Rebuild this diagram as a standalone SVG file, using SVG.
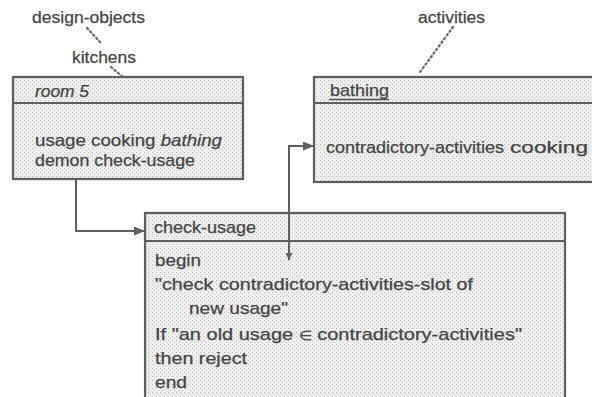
<svg xmlns="http://www.w3.org/2000/svg" width="592" height="397" viewBox="0 0 592 397">
<style>
  text { font-family: "Liberation Sans", Arial, sans-serif; fill: #444; stroke: #444; stroke-width: 0.25; }
  .lbl { font-size: 16px; }
  .t { font-size: 17px; }
  .box { fill: url(#stipple); stroke: #5e5e5e; stroke-width: 2.2; }
  .div { stroke: #5e5e5e; stroke-width: 2.2; fill: none; }
  .ul { stroke: #555; stroke-width: 1.6; fill: none; }
  .con { stroke: #5e5e5e; stroke-width: 2; fill: none; }
  .dot { stroke: #666; stroke-width: 2.2; stroke-dasharray: 1.5 3; stroke-linecap: round; fill: none; }
</style>
<defs>
  <pattern id="stipple" width="4" height="4" patternUnits="userSpaceOnUse">
    <rect width="4" height="4" fill="#efefef"/>
    <rect x="0" y="0" width="1" height="1" fill="#b4b4b4"/>
    <rect x="2" y="2" width="1" height="1" fill="#c4c4c4"/>
  </pattern>
  <marker id="arr" markerUnits="userSpaceOnUse" markerWidth="11" markerHeight="9" refX="11" refY="4.5" orient="auto-start-reverse">
    <path d="M0,0 L11,4.5 L0,9 z" fill="#5e5e5e"/>
  </marker>
  <marker id="arrs" markerUnits="userSpaceOnUse" markerWidth="7" markerHeight="7" refX="7" refY="3.5" orient="auto-start-reverse">
    <path d="M0,0 L7,3.5 L0,7 z" fill="#5e5e5e"/>
  </marker>
</defs>

<g id="label-design-objects">
  <text class="lbl" x="32" y="23" textLength="113" lengthAdjust="spacingAndGlyphs">design-objects</text>
</g>
<g id="label-kitchens">
  <text class="lbl" x="72" y="63" textLength="64" lengthAdjust="spacingAndGlyphs">kitchens</text>
</g>
<g id="label-activities">
  <text class="lbl" x="418" y="23" textLength="67" lengthAdjust="spacingAndGlyphs">activities</text>
</g>

<g id="room5">
  <rect class="box" x="13" y="77" width="230" height="102"/>
  <line class="div" x1="13" y1="103" x2="243" y2="103"/>
  <text class="t" x="35" y="97" font-style="italic" textLength="54" lengthAdjust="spacingAndGlyphs">room 5</text>
  <text class="t" x="35" y="146" textLength="187" lengthAdjust="spacingAndGlyphs">usage cooking <tspan font-style="italic">bathing</tspan></text>
  <text class="t" x="35" y="166" textLength="160" lengthAdjust="spacingAndGlyphs">demon check-usage</text>
</g>

<g id="bathing">
  <rect class="box" x="314" y="77" width="290" height="105"/>
  <line class="div" x1="314" y1="103" x2="604" y2="103"/>
  <text class="t" x="330" y="96" textLength="59" lengthAdjust="spacingAndGlyphs">bathing</text>
  <line class="ul" x1="329" y1="99.5" x2="389" y2="99.5"/>
  <text class="t" x="326" y="153" textLength="178" lengthAdjust="spacingAndGlyphs">contradictory-activities</text>
  <text class="t" x="510" y="153" textLength="78" lengthAdjust="spacingAndGlyphs">cooking</text>
</g>

<g id="check-usage">
  <rect class="box" x="145" y="213" width="420" height="200"/>
  <line class="div" x1="145" y1="241" x2="565" y2="241"/>
  <text class="t" x="154" y="233" textLength="102" lengthAdjust="spacingAndGlyphs">check-usage</text>
  <text class="t" x="155" y="266" textLength="46" lengthAdjust="spacingAndGlyphs">begin</text>
  <text class="t" x="155" y="290" textLength="318" lengthAdjust="spacingAndGlyphs">"check contradictory-activities-slot of</text>
  <text class="t" x="189" y="314" textLength="99" lengthAdjust="spacingAndGlyphs">new usage"</text>
  <text class="t" x="155" y="340" textLength="367" lengthAdjust="spacingAndGlyphs">If "an old usage <tspan font-size="13">∈</tspan> contradictory-activities"</text>
  <text class="t" x="155" y="364" textLength="92" lengthAdjust="spacingAndGlyphs">then reject</text>
  <text class="t" x="155" y="388" textLength="32" lengthAdjust="spacingAndGlyphs">end</text>
</g>

<g id="connectors">
  <path class="dot" d="M87,28 L101,43"/>
  <path class="dot" d="M111,67 L123,77"/>
  <path class="dot" d="M453,27 L420,72"/>
  <path class="con" d="M76,179 L76,231 L145,231" marker-end="url(#arr)"/>
  <path class="con" d="M289,260 L289,146 L314,146" marker-start="url(#arrs)" marker-end="url(#arr)"/>
</g>
</svg>
